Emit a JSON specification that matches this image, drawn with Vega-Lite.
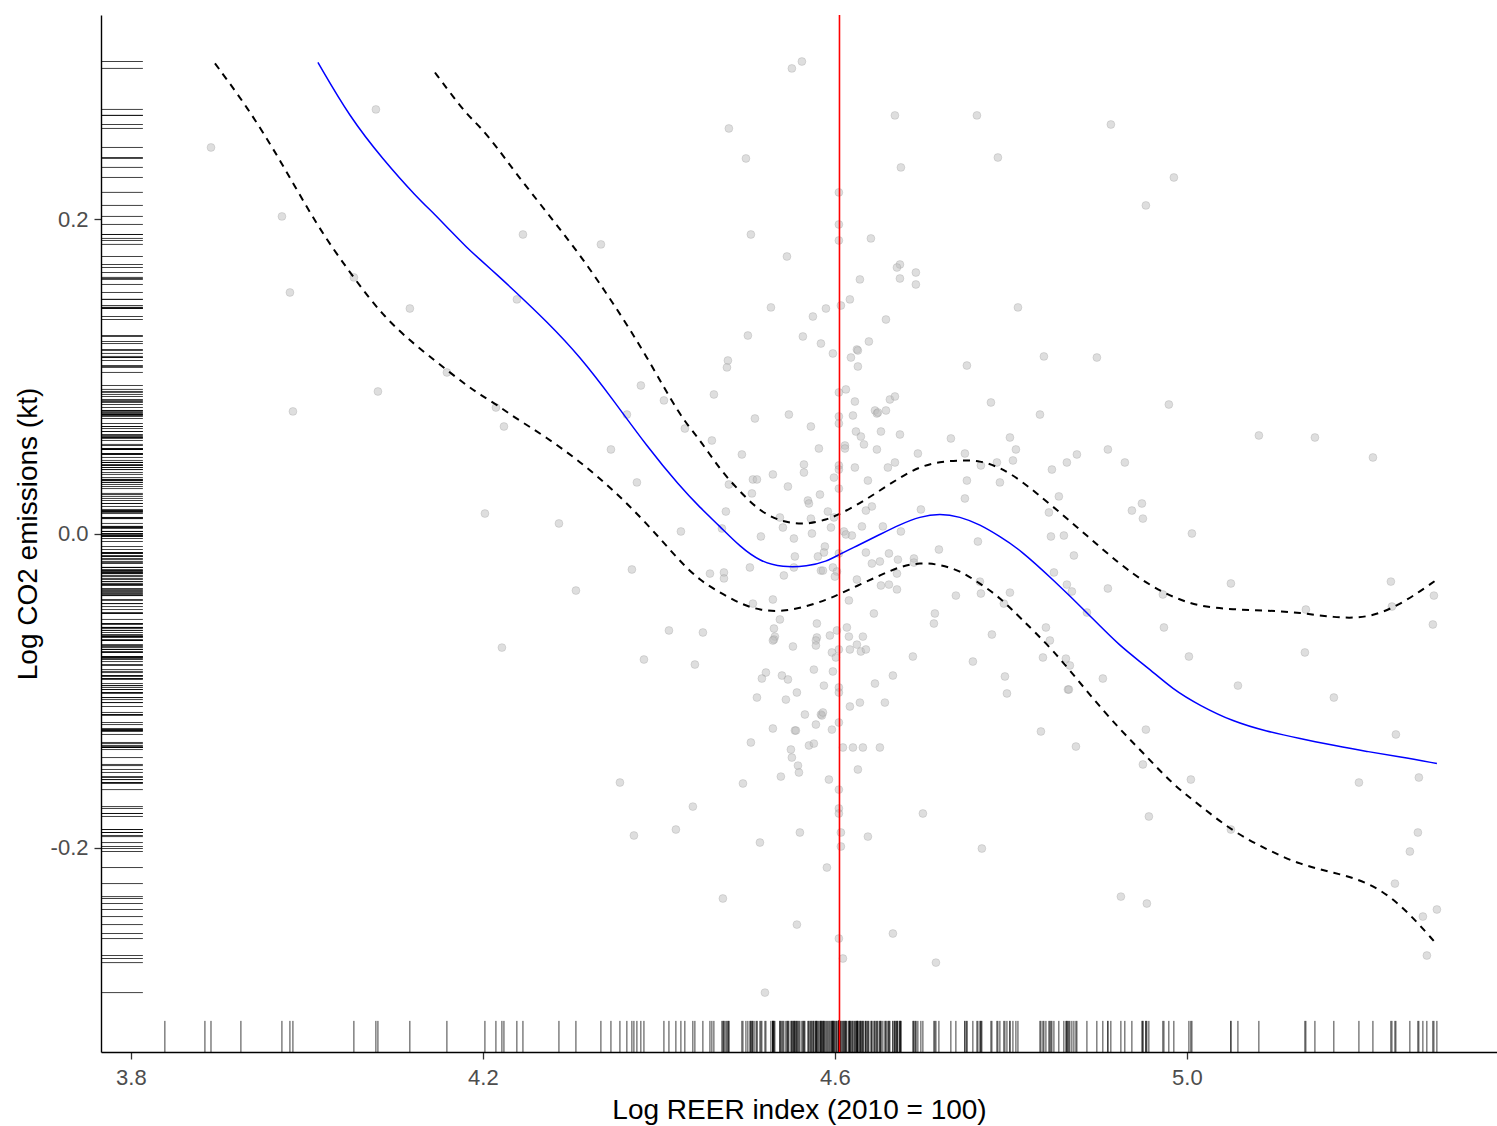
{
 "$schema": "https://vega.github.io/schema/vega-lite/v6.json",
 "width": 1396,
 "height": 1037,
 "autosize": {"type": "none"},
 "padding": {"left": 101, "top": 15, "right": 0, "bottom": 74},
 "background": "white",
 "config": {
  "view": {"stroke": null},
  "axis": {
   "grid": false,
   "domainColor": "#000000",
   "domainWidth": 1.4,
   "tickColor": "#333333",
   "tickSize": 7,
   "tickWidth": 1.3,
   "labelFont": "Liberation Sans",
   "labelFontSize": 22,
   "labelColor": "#4d4d4d",
   "titleFont": "Liberation Sans",
   "titleFontSize": 28,
   "titleFontWeight": "normal",
   "titleColor": "#000000"
  }
 },
 "datasets": {
  "pts": [
   {"x":3.891,"y":0.2457},{"x":4.0784,"y":0.2699},{"x":3.9716,"y":0.2018},{"x":3.9807,"y":0.1534},{"x":4.0534,"y":0.1630},{"x":4.1170,"y":0.1432},{"x":4.1591,"y":0.1025},{"x":4.0807,"y":0.0904},{"x":3.9841,"y":0.0777},{"x":4.2148,"y":0.0802},{"x":4.2023,"y":0.0127},
   {"x":4.4795,"y":0.2578},{"x":4.4989,"y":0.2387},{"x":4.2455,"y":0.1903},{"x":4.3341,"y":0.1840},{"x":4.5045,"y":0.1903},{"x":4.2386,"y":0.1490},{"x":4.5011,"y":0.1260},{"x":4.4784,"y":0.1101},{"x":4.4773,"y":0.1057},{"x":4.3795,"y":0.0942},{"x":4.4057,"y":0.0847},{"x":4.4625,"y":0.0885},{"x":4.2239,"y":0.0681},{"x":4.3636,"y":0.0757},{"x":4.4295,"y":0.0668},{"x":4.5091,"y":0.0732},{"x":4.4602,"y":0.0592},{"x":4.3455,"y":0.0535},{"x":4.4943,"y":0.0503},{"x":4.3750,"y":0.0325},{"x":4.4795,"y":0.0312},{"x":4.5068,"y":0.0344},{"x":4.5114,"y":0.0344},{"x":4.5057,"y":0.0255},{"x":4.4761,"y":0.0140},
   {"x":4.5625,"y":0.3004},{"x":4.5511,"y":0.2960},{"x":4.6682,"y":0.2661},{"x":4.6750,"y":0.2330},{"x":4.6045,"y":0.2171},{"x":4.6045,"y":0.1967},{"x":4.6045,"y":0.1865},{"x":4.6409,"y":0.1878},{"x":4.5455,"y":0.1763},{"x":4.6739,"y":0.1712},{"x":4.6705,"y":0.1693},{"x":4.6920,"y":0.1661},{"x":4.6739,"y":0.1623},{"x":4.6920,"y":0.1585},{"x":4.6284,"y":0.1617},{"x":4.6170,"y":0.1490},{"x":4.6068,"y":0.1451},{"x":4.5898,"y":0.1432},{"x":4.5750,"y":0.1381},{"x":4.5273,"y":0.1439},{"x":4.6580,"y":0.1362},{"x":4.5636,"y":0.1254},{"x":4.5841,"y":0.1209},{"x":4.5977,"y":0.1146},{"x":4.6250,"y":0.1171},{"x":4.6261,"y":0.1165},{"x":4.6386,"y":0.1222},{"x":4.6182,"y":0.1120},{"x":4.6261,"y":0.1063},{"x":4.7500,"y":0.1069},{"x":4.6045,"y":0.0898},{"x":4.6125,"y":0.0917},{"x":4.6227,"y":0.0840},{"x":4.6625,"y":0.0853},{"x":4.6682,"y":0.0872},{"x":4.6455,"y":0.0783},{"x":4.6477,"y":0.0764},{"x":4.6489,"y":0.0770},{"x":4.6580,"y":0.0783},{"x":4.6045,"y":0.0745},{"x":4.6205,"y":0.0751},{"x":4.5477,"y":0.0757},
   {"x":4.6045,"y":0.0700},{"x":4.5727,"y":0.0681},{"x":4.6239,"y":0.0649},{"x":4.6295,"y":0.0617},{"x":4.6523,"y":0.0649},{"x":4.6739,"y":0.0630},{"x":4.7318,"y":0.0605},{"x":4.6114,"y":0.0560},{"x":4.6114,"y":0.0541},{"x":4.5818,"y":0.0541},{"x":4.6330,"y":0.0567},{"x":4.6477,"y":0.0535},{"x":4.6943,"y":0.0509},{"x":4.7477,"y":0.0509},{"x":4.5648,"y":0.0439},{"x":4.5648,"y":0.0388},{"x":4.6045,"y":0.0433},{"x":4.6045,"y":0.0407},{"x":4.6227,"y":0.0420},{"x":4.6682,"y":0.0452},{"x":4.6602,"y":0.0420},{"x":4.5295,"y":0.0376},{"x":4.5989,"y":0.0356},{"x":4.7500,"y":0.0337},{"x":4.5466,"y":0.0299},{"x":4.6045,"y":0.0286},{"x":4.6375,"y":0.0337},{"x":4.5830,"y":0.0248},{"x":4.5693,"y":0.0210},{"x":4.5705,"y":0.0191},{"x":4.7477,"y":0.0223},{"x":4.6420,"y":0.0172},{"x":4.6352,"y":0.0146},{"x":4.6977,"y":0.0153},{"x":4.5920,"y":0.0140},{"x":4.5989,"y":0.0102},{"x":4.5727,"y":0.0095},{"x":4.5375,"y":0.0102},{"x":4.5409,"y":0.0038},{"x":4.5955,"y":0.0038},{"x":4.5739,"y":0.0},{"x":4.5159,"y":-0.0019},{"x":4.5534,"y":-0.0032},{"x":4.6102,"y":0.0013},{"x":4.6125,"y":-0.0006},{"x":4.6193,"y":-0.0013},{"x":4.6307,"y":0.0045},{"x":4.6545,"y":0.0045},{"x":4.6750,"y":0.0013},{"x":4.4716,"y":0.0032},{"x":4.5886,"y":-0.0083},{"x":4.5875,"y":-0.0121},{"x":4.5807,"y":-0.0146},{"x":4.5545,"y":-0.0146},{"x":4.6045,"y":-0.0127},{"x":4.6352,"y":-0.0121},{"x":4.6614,"y":-0.0127},{"x":4.7182,"y":-0.0102},{"x":4.6716,"y":-0.0166},{"x":4.6898,"y":-0.0159},{"x":4.6898,"y":-0.0185},{"x":4.6420,"y":-0.0191},{"x":4.6511,"y":-0.0178},{"x":4.5034,"y":-0.0216},{"x":4.5534,"y":-0.0216},{"x":4.5841,"y":-0.0236},{"x":4.5864,"y":-0.0236},{"x":4.5977,"y":-0.0216},{"x":4.6023,"y":-0.0242},{"x":4.4580,"y":-0.0255},{"x":4.4739,"y":-0.0248},{"x":4.4739,"y":-0.0286},{"x":4.5420,"y":-0.0267},{"x":4.6000,"y":-0.0274},{"x":4.6705,"y":-0.0255},{"x":4.6250,"y":-0.0293},{"x":4.6523,"y":-0.0331},{"x":4.6614,"y":-0.0325},{"x":4.6705,"y":-0.0356},{"x":4.7375,"y":-0.0395},{"x":4.6159,"y":-0.0426},{"x":4.5068,"y":-0.0446},{"x":4.5295,"y":-0.0420},{"x":4.6443,"y":-0.0509},{"x":4.7136,"y":-0.0509},{"x":4.5375,"y":-0.0547},{"x":4.5795,"y":-0.0573},{"x":4.7125,"y":-0.0573},{"x":4.5307,"y":-0.0605},{"x":4.6023,"y":-0.0617},{"x":4.6136,"y":-0.0598},{"x":4.5943,"y":-0.0649},{"x":4.6318,"y":-0.0656},{"x":4.4500,"y":-0.0630},{"x":4.5318,"y":-0.0656},{"x":4.5795,"y":-0.0662},
   {"x":4.2864,"y":0.0064},{"x":4.4250,"y":0.0013},{"x":4.3693,"y":-0.0229},{"x":4.3057,"y":-0.0363},{"x":4.4114,"y":-0.0617},{"x":4.2216,"y":-0.0726},{"x":4.3830,"y":-0.0802},{"x":4.4409,"y":-0.0834},{"x":4.3557,"y":-0.1585},{"x":4.4386,"y":-0.1738},{"x":4.4193,"y":-0.1884},{"x":4.3716,"y":-0.1922},
   {"x":4.5307,"y":-0.0675},{"x":4.5295,"y":-0.0681},{"x":4.5523,"y":-0.0719},{"x":4.5784,"y":-0.0681},{"x":4.5784,"y":-0.0713},{"x":4.6159,"y":-0.0656},{"x":4.6250,"y":-0.0707},{"x":4.6170,"y":-0.0738},{"x":4.6295,"y":-0.0751},{"x":4.6352,"y":-0.0738},{"x":4.6045,"y":-0.0738},{"x":4.5966,"y":-0.0757},{"x":4.6011,"y":-0.0789},{"x":4.6886,"y":-0.0783},{"x":4.5761,"y":-0.0866},{"x":4.5977,"y":-0.0878},{"x":4.5216,"y":-0.0885},{"x":4.5170,"y":-0.0923},{"x":4.5398,"y":-0.0904},{"x":4.5466,"y":-0.0929},{"x":4.6659,"y":-0.0904},{"x":4.6455,"y":-0.0955},{"x":4.5875,"y":-0.0968},{"x":4.6045,"y":-0.0980},{"x":4.6045,"y":-0.1012},{"x":4.5568,"y":-0.1012},{"x":4.5114,"y":-0.1044},{"x":4.5443,"y":-0.1057},{"x":4.6170,"y":-0.1101},{"x":4.6284,"y":-0.1076},{"x":4.6568,"y":-0.1076},{"x":4.5659,"y":-0.1152},{"x":4.5841,"y":-0.1152},{"x":4.5852,"y":-0.1158},{"x":4.5864,"y":-0.1139},{"x":4.6045,"y":-0.1203},{"x":4.5784,"y":-0.1216},{"x":4.5966,"y":-0.1248},{"x":4.5295,"y":-0.1241},{"x":4.5545,"y":-0.1254},{"x":4.5557,"y":-0.1254},{"x":4.5045,"y":-0.1330},{"x":4.5705,"y":-0.1349},{"x":4.5761,"y":-0.1337},{"x":4.6091,"y":-0.1362},{"x":4.6205,"y":-0.1362},{"x":4.6318,"y":-0.1362},{"x":4.6511,"y":-0.1362},{"x":4.5500,"y":-0.1375},{"x":4.5511,"y":-0.1426},{"x":4.5580,"y":-0.1477},{"x":4.5591,"y":-0.1521},{"x":4.5386,"y":-0.1547},{"x":4.6261,"y":-0.1502},{"x":4.5932,"y":-0.1566},{"x":4.4955,"y":-0.1591},{"x":4.6045,"y":-0.1630},{"x":4.6045,"y":-0.1750},{"x":4.6045,"y":-0.1782},{"x":4.7000,"y":-0.1782},{"x":4.5602,"y":-0.1903},{"x":4.6068,"y":-0.1903},{"x":4.6375,"y":-0.1929},{"x":4.5148,"y":-0.1967},{"x":4.6068,"y":-0.1992},{"x":4.5909,"y":-0.2126},{"x":4.4727,"y":-0.2323},{"x":4.5568,"y":-0.2489},{"x":4.6045,"y":-0.2578},{"x":4.6659,"y":-0.2546},{"x":4.6091,"y":-0.2705},{"x":4.7148,"y":-0.2731},{"x":4.5205,"y":-0.2922},
   {"x":4.7614,"y":0.2661},{"x":4.9136,"y":0.2603},{"x":4.7852,"y":0.2393},{"x":4.9852,"y":0.2266},{"x":4.9534,"y":0.2088},{"x":4.8080,"y":0.1439},{"x":4.8375,"y":0.1127},{"x":4.8977,"y":0.1120},{"x":4.7773,"y":0.0834},{"x":4.8330,"y":0.0757},{"x":4.9795,"y":0.0821},{"x":4.7989,"y":0.0611},{"x":4.8057,"y":0.0535},{"x":4.7841,"y":0.0452},{"x":4.8023,"y":0.0465},{"x":4.7659,"y":0.0433},{"x":4.7875,"y":0.0325},{"x":4.8466,"y":0.0407},{"x":4.8636,"y":0.0452},{"x":4.8750,"y":0.0503},{"x":4.9102,"y":0.0535},{"x":4.9295,"y":0.0452},{"x":4.8545,"y":0.0236},{"x":4.8432,"y":0.0134},{"x":4.9375,"y":0.0146},{"x":4.9489,"y":0.0191},{"x":4.9500,"y":0.0095},{"x":5.0057,"y":0.0},{"x":4.7625,"y":-0.0051},{"x":4.8455,"y":-0.0019},{"x":4.8602,"y":-0.0013},{"x":4.8716,"y":-0.0140},
   {"x":4.7648,"y":-0.0306},{"x":4.7659,"y":-0.0382},{"x":4.7989,"y":-0.0376},{"x":4.7920,"y":-0.0446},{"x":4.8489,"y":-0.0248},{"x":4.8636,"y":-0.0325},{"x":4.8693,"y":-0.0369},{"x":4.9102,"y":-0.0350},{"x":4.8864,"y":-0.0503},{"x":4.9727,"y":-0.0388},{"x":4.9739,"y":-0.0598},{"x":5.0023,"y":-0.0783},{"x":4.7784,"y":-0.0643},{"x":4.7568,"y":-0.0815},{"x":4.8398,"y":-0.0598},{"x":4.8443,"y":-0.0681},{"x":4.8364,"y":-0.0789},{"x":4.8625,"y":-0.0796},{"x":4.8670,"y":-0.0840},{"x":4.7932,"y":-0.0910},{"x":4.7955,"y":-0.1018},{"x":4.9045,"y":-0.0923},{"x":4.8648,"y":-0.0993},{"x":4.8659,"y":-0.0993},{"x":4.8341,"y":-0.1260},{"x":4.8739,"y":-0.1356},{"x":4.9534,"y":-0.1248},{"x":4.9500,"y":-0.1470},{"x":5.0045,"y":-0.1566},{"x":4.9568,"y":-0.1801},{"x":4.7670,"y":-0.2005},{"x":4.9250,"y":-0.2311},{"x":4.9545,"y":-0.2355},
   {"x":5.0818,"y":0.0624},{"x":5.1455,"y":0.0611},{"x":5.2114,"y":0.0484},{"x":5.0500,"y":-0.0318},{"x":5.2318,"y":-0.0306},{"x":5.2330,"y":-0.0465},{"x":5.2807,"y":-0.0395},{"x":5.2795,"y":-0.0579},{"x":5.1352,"y":-0.0484},{"x":5.1341,"y":-0.0757},{"x":5.0580,"y":-0.0968},{"x":5.1670,"y":-0.1044},{"x":5.2375,"y":-0.1279},{"x":5.2636,"y":-0.1553},{"x":5.1955,"y":-0.1585},{"x":5.0500,"y":-0.1884},{"x":5.2625,"y":-0.1903},{"x":5.2534,"y":-0.2024},{"x":5.2364,"y":-0.2228},{"x":5.2841,"y":-0.2393},{"x":5.2682,"y":-0.2438},{"x":5.2727,"y":-0.2686},
   {"x":3.8386,"y":0.36},{"x":3.8841,"y":0.35},{"x":3.9250,"y":0.345}
  ],
  "smooth": [
   {"x":3.8955,"fit":null,"hi":null,"lo":0.2992},
   {"x":3.9318,"fit":null,"hi":null,"lo":0.2718},
   {"x":3.9693,"fit":null,"hi":null,"lo":0.2381},
   {"x":4.0125,"fit":0.2998,"hi":null,"lo":0.1948},
   {"x":4.0489,"fit":0.2648,"hi":null,"lo":0.1661},
   {"x":4.0864,"fit":0.2381,"hi":null,"lo":0.1381},
   {"x":4.1250,"fit":0.2139,"hi":null,"lo":0.1190},
   {"x":4.1455,"fit":0.2031,"hi":0.2934,"lo":0.1101},
   {"x":4.1625,"fit":0.1929,"hi":0.2807,"lo":0.1025},
   {"x":4.1818,"fit":0.1820,"hi":0.2667,"lo":0.0942},
   {"x":4.1966,"fit":0.1744,"hi":0.2591,"lo":0.0885},
   {"x":4.2170,"fit":0.1642,"hi":0.2451,"lo":0.0815},
   {"x":4.2341,"fit":0.1553,"hi":0.2317,"lo":0.0745},
   {"x":4.2727,"fit":0.1349,"hi":0.2043,"lo":0.0611},
   {"x":4.3102,"fit":0.1127,"hi":0.1776,"lo":0.0458},
   {"x":4.3477,"fit":0.0853,"hi":0.1470,"lo":0.0280},
   {"x":4.3864,"fit":0.0554,"hi":0.1127,"lo":0.0064},
   {"x":4.4239,"fit":0.0299,"hi":0.0745,"lo":-0.0178},
   {"x":4.4466,"fit":0.0166,"hi":0.0598,"lo":-0.0299},
   {"x":4.4693,"fit":0.0045,"hi":0.0407,"lo":-0.0376},
   {"x":4.4920,"fit":-0.0083,"hi":0.0267,"lo":-0.0446},
   {"x":4.5148,"fit":-0.0178,"hi":0.0140,"lo":-0.0490},
   {"x":4.5409,"fit":-0.0216,"hi":0.0070,"lo":-0.0497},
   {"x":4.5682,"fit":-0.0210,"hi":0.0057,"lo":-0.0465},
   {"x":4.5909,"fit":-0.0178,"hi":0.0089,"lo":-0.0420},
   {"x":4.6045,"fit":-0.0134,"hi":0.0121,"lo":-0.0388},
   {"x":4.6284,"fit":-0.0070,"hi":0.0191,"lo":-0.0325},
   {"x":4.6511,"fit":-0.0006,"hi":0.0274,"lo":-0.0267},
   {"x":4.6739,"fit":0.0057,"hi":0.0356,"lo":-0.0210},
   {"x":4.6966,"fit":0.0108,"hi":0.0426,"lo":-0.0185},
   {"x":4.7193,"fit":0.0127,"hi":0.0458,"lo":-0.0197},
   {"x":4.7420,"fit":0.0108,"hi":0.0465,"lo":-0.0236},
   {"x":4.7648,"fit":0.0057,"hi":0.0465,"lo":-0.0318},
   {"x":4.7875,"fit":-0.0019,"hi":0.0420,"lo":-0.0407},
   {"x":4.8102,"fit":-0.0102,"hi":0.0344,"lo":-0.0535},
   {"x":4.8477,"fit":-0.0293,"hi":0.0172,"lo":-0.0738},
   {"x":4.8864,"fit":-0.0503,"hi":-0.0013,"lo":-0.1006},
   {"x":4.9239,"fit":-0.0719,"hi":-0.0197,"lo":-0.1248},
   {"x":4.9545,"fit":-0.0847,"hi":-0.0318,"lo":-0.1420},
   {"x":4.9841,"fit":-0.0993,"hi":-0.0407,"lo":-0.1598},
   {"x":5.0148,"fit":-0.1095,"hi":-0.0465,"lo":-0.1731},
   {"x":5.0523,"fit":-0.1197,"hi":-0.0484,"lo":-0.1897},
   {"x":5.0909,"fit":-0.1260,"hi":-0.0490,"lo":-0.2012},
   {"x":5.1284,"fit":-0.1305,"hi":-0.0503,"lo":-0.2107},
   {"x":5.1670,"fit":-0.1349,"hi":-0.0535,"lo":-0.2158},
   {"x":5.2045,"fit":-0.1388,"hi":-0.0541,"lo":-0.2215},
   {"x":5.2420,"fit":-0.1420,"hi":-0.0458,"lo":-0.2349},
   {"x":5.2841,"fit":-0.1464,"hi":-0.0293,"lo":-0.2616}
  ],
  "ref": [{"x":4.6052}]
 },
 "layer": [
  {
   "data": {"name": "pts"},
   "mark": {"type": "circle", "size": 62, "fill": "#bebebe", "fillOpacity": 0.5, "stroke": "#8c8c8c", "strokeOpacity": 0.3, "strokeWidth": 0.8, "clip": true},
   "encoding": {
    "x": {"field": "x", "type": "quantitative", "title": "Log REER index (2010 = 100)",
     "scale": {"domain": [3.766, 5.3524], "nice": false, "zero": false},
     "axis": {"values": [3.8, 4.2, 4.6, 5.0], "format": ".1f", "labelPadding": 8, "titlePadding": 8}},
    "y": {"field": "y", "type": "quantitative", "title": "Log CO2 emissions (kt)",
     "scale": {"domain": [-0.33, 0.33], "nice": false, "zero": false},
     "axis": {"values": [-0.2, 0, 0.2], "labelExpr": "datum.value < 0 ? '-' + format(-datum.value, '.1f') : format(datum.value, '.1f')", "labelPadding": 6, "titlePadding": 8}}
   }
  },
  {
   "data": {"name": "pts"},
   "mark": {"type": "rule", "color": "#000000", "strokeWidth": 1, "opacity": 0.75, "clip": true},
   "encoding": {
    "x": {"field": "x", "type": "quantitative", "title": "Log REER index (2010 = 100)"},
    "y": {"datum": -0.33},
    "y2": {"datum": -0.3102}
   }
  },
  {
   "data": {"name": "pts"},
   "mark": {"type": "rule", "color": "#000000", "strokeWidth": 1, "opacity": 0.75, "clip": true},
   "encoding": {
    "y": {"field": "y", "type": "quantitative", "title": "Log CO2 emissions (kt)"},
    "x": {"datum": 3.766},
    "x2": {"datum": 3.8136}
   }
  },
  {
   "data": {"name": "smooth"},
   "mark": {"type": "line", "color": "#0000ff", "strokeWidth": 1.5, "interpolate": "basis", "clip": true},
   "encoding": {
    "x": {"field": "x", "type": "quantitative", "title": "Log REER index (2010 = 100)"},
    "y": {"field": "fit", "type": "quantitative", "title": "Log CO2 emissions (kt)"}
   }
  },
  {
   "data": {"name": "smooth"},
   "mark": {"type": "line", "color": "#000000", "strokeWidth": 2, "strokeDash": [7, 6], "interpolate": "basis", "clip": true},
   "encoding": {
    "x": {"field": "x", "type": "quantitative", "title": "Log REER index (2010 = 100)"},
    "y": {"field": "hi", "type": "quantitative", "title": "Log CO2 emissions (kt)"}
   }
  },
  {
   "data": {"name": "smooth"},
   "mark": {"type": "line", "color": "#000000", "strokeWidth": 2, "strokeDash": [7, 6], "interpolate": "basis", "clip": true},
   "encoding": {
    "x": {"field": "x", "type": "quantitative", "title": "Log REER index (2010 = 100)"},
    "y": {"field": "lo", "type": "quantitative", "title": "Log CO2 emissions (kt)"}
   }
  },
  {
   "data": {"name": "ref"},
   "mark": {"type": "rule", "color": "#ff0000", "strokeWidth": 1.6},
   "encoding": {
    "x": {"field": "x", "type": "quantitative", "title": "Log REER index (2010 = 100)"}
   }
  }
 ]
}
